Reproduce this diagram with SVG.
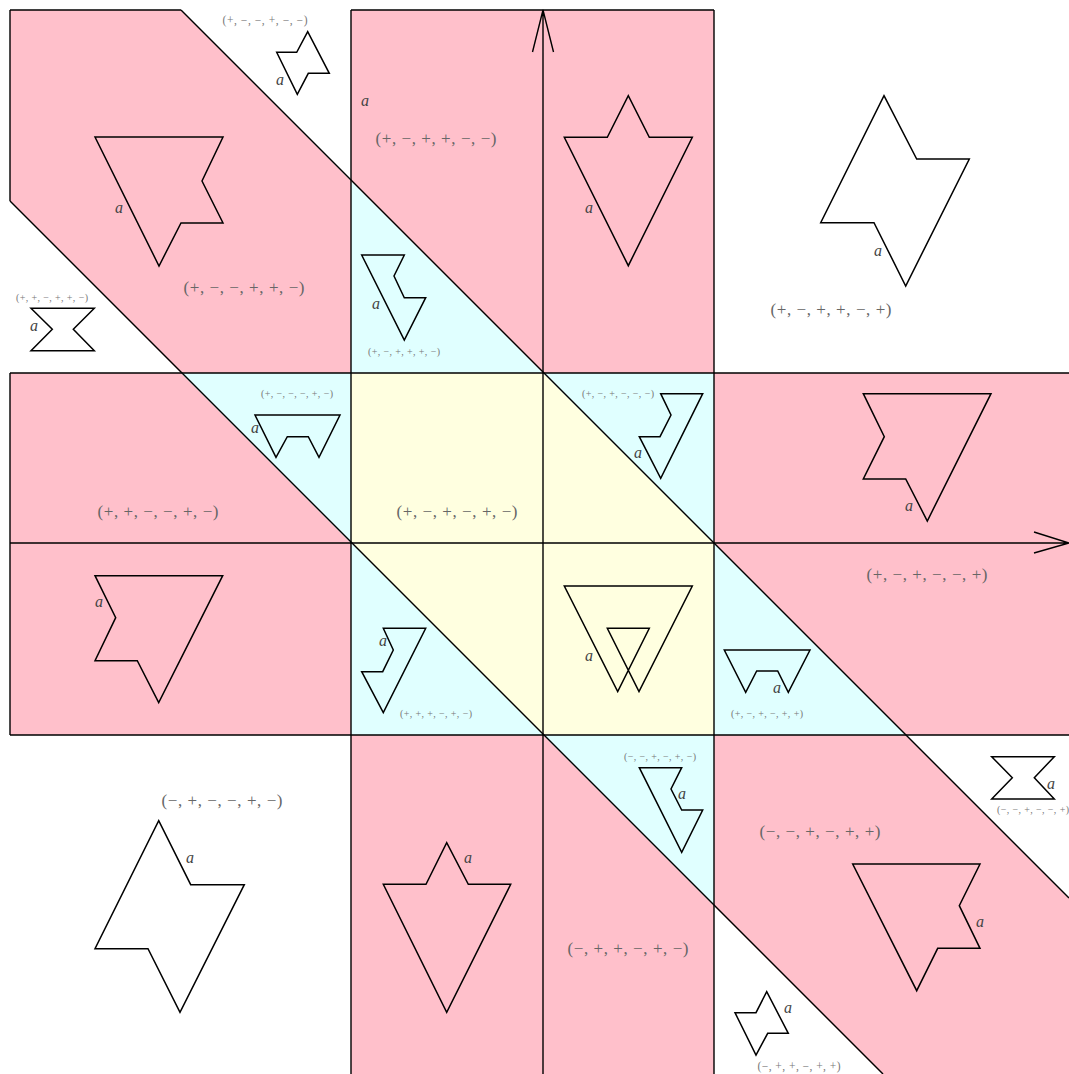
<svg xmlns="http://www.w3.org/2000/svg" width="1069" height="1074" viewBox="0 0 1069 1074">
<style>
.pk{fill:#FFC0CB}
.cy{fill:#E0FFFF}
.yl{fill:#FFFFE0}
.ln{stroke:#000;stroke-width:1.4;fill:none}
.sh{stroke:#000;stroke-width:1.5;fill:none;stroke-linejoin:miter}
.a{font-family:"Liberation Serif",serif;font-style:italic;font-size:16px;fill:#444;text-anchor:middle}
.big{font-family:"Liberation Serif",serif;font-size:17px;fill:#666;text-anchor:middle}
.sm{font-family:"Liberation Serif",serif;font-size:10px;fill:#777;text-anchor:middle}
.sm2{font-family:"Liberation Serif",serif;font-size:11.5px;fill:#777;text-anchor:middle}
</style>
<rect x="0" y="0" width="1069" height="1074" fill="#fff"/>
<g id="regions" stroke="none">
<polygon class="pk" points="10,10 181,10 351,181 351,373 181,373 10,201"/>
<polygon class="pk" points="351,10 543,10 543,373 351,181"/>
<polygon class="cy" points="351,181 543,373 351,373"/>
<polygon class="pk" points="543,10 714,10 714,373 543,373"/>
<polygon class="pk" points="10,373 181,373 351,543 10,543"/>
<polygon class="cy" points="181,373 351,373 351,543"/>
<polygon class="yl" points="351,373 543,373 543,543 351,543"/>
<polygon class="yl" points="543,373 714,543 543,543"/>
<polygon class="cy" points="543,373 714,373 714,543"/>
<polygon class="pk" points="714,373 1069,373 1069,543 714,543"/>
<polygon class="pk" points="10,543 351,543 351,735 10,735"/>
<polygon class="yl" points="351,543 543,543 543,735"/>
<polygon class="cy" points="351,543 543,735 351,735"/>
<polygon class="yl" points="543,543 714,543 714,735 543,735"/>
<polygon class="cy" points="714,543 906,735 714,735"/>
<polygon class="pk" points="714,543 1069,543 1069,735 906,735"/>
<polygon class="pk" points="351,735 543,735 543,1074 351,1074"/>
<polygon class="cy" points="543,735 714,735 714,906"/>
<polygon class="pk" points="543,735 714,906 714,1074 543,1074"/>
<polygon class="pk" points="714,735 906,735 1069,898 1069,1074 882,1074 714,906"/>
</g>
<g id="connectors">
<path class="ln" d="M10,10 H181 M351,10 H714"/>
<path class="ln" d="M10,10 V201 M10,373 V735"/>
<path class="ln" d="M351,10 V1074 M714,10 V1074"/>
<path class="ln" d="M543,1074 V10 M532.5,52 L543,10 L553.5,52"/>
<path class="ln" d="M10,373 H1069 M10,735 H1069"/>
<path class="ln" d="M10,543 H1069 M1034,532 L1069,543 L1034,553"/>
<path class="ln" d="M181,10 L1069,898"/>
<path class="ln" d="M10,201 L883,1074"/>
</g>
<g id="shape1"><polygon class="sh" points="95,137 223,137 202,181 223,223 181,223 159,266"/><text class="a" x="119" y="213">a</text></g>
<g id="shape2"><polygon class="sh" points="276.7,52.3 296.7,52.3 307.7,31.7 329.3,73.3 308.3,73.3 297.3,94.3"/><text class="a" x="280" y="85">a</text></g>
<g id="shape3"><polygon class="sh" points="31,308.3 94.3,308.3 73.3,329.3 94.3,350.7 31,350.7 52.3,329.3"/><text class="a" x="34" y="331">a</text></g>
<g id="shape4"><text class="a" x="365" y="106">a</text></g>
<g id="shape5"><polygon class="sh" points="361.7,255 404.3,255 394,276 404.3,297.7 425.7,297.7 404.3,340"/><text class="a" x="376" y="309">a</text></g>
<g id="shape6"><polygon class="sh" points="564.3,137.3 607.3,137.3 628.3,95.7 649.3,137.3 692.3,137.3 628.3,265.7"/><text class="a" x="589" y="213">a</text></g>
<g id="shape7"><polygon class="sh" points="884,95.7 916.7,159 969.3,159 905.7,286 874,222.7 820.7,222.7"/><text class="a" x="878" y="256">a</text></g>
<g id="shape8"><polygon class="sh" points="255,415 340,415 319,457.3 308.3,436.7 287.3,436.7 276,457.3"/><text class="a" x="255" y="433">a</text></g>
<g id="shape9"><polygon class="sh" points="95,575.7 222.7,575.7 158.7,702.7 137.3,660.7 95,660.7 115.7,617.7"/><text class="a" x="99" y="607">a</text></g>
<g id="shape10"><polygon class="sh" points="660.7,393.7 702.7,393.7 660.7,478.3 639.3,436.7 660,436.7 671,415"/><text class="a" x="638" y="458">a</text></g>
<g id="shape11"><polygon class="sh" points="383.3,628.3 425.7,628.3 383.3,712.7 361.7,671.7 382.7,671.7 393.3,650"/><text class="a" x="383" y="646">a</text></g>
<g id="shape12"><polygon class="sh" points="564.3,586 692.3,586 639,691.7 607.3,628.3 649.3,628.3 617.7,691.7"/><text class="a" x="589" y="661">a</text></g>
<g id="shape13"><polygon class="sh" points="863.3,393.7 991,393.7 927.3,521 905.7,479 863.3,479 884.3,436.7"/><text class="a" x="909" y="511">a</text></g>
<g id="shape14"><polygon class="sh" points="724.3,650 810,650 788.3,692.3 777.7,671 756.7,671 745.7,692.3"/><text class="a" x="777" y="693">a</text></g>
<g id="shape15"><polygon class="sh" points="158.7,820.7 190.7,884.7 244.3,884.7 180,1012.3 148,948.7 95,948.7"/><text class="a" x="190" y="863">a</text></g>
<g id="shape16"><polygon class="sh" points="383.3,884.3 426,884.3 446.7,842.7 468.3,884.3 510.7,884.3 446.7,1012.3"/><text class="a" x="468" y="863">a</text></g>
<g id="shape17"><polygon class="sh" points="639.3,767.7 681.7,767.7 671,789 681.7,810 702.7,810 681.7,852.3"/><text class="a" x="682" y="799">a</text></g>
<g id="shape18"><polygon class="sh" points="852.7,864 980,864 959.3,905.7 980,948.3 937.7,948.3 916.7,990.7"/><text class="a" x="980" y="927">a</text></g>
<g id="shape19"><polygon class="sh" points="991.7,756.7 1054.3,756.7 1034.3,777.7 1054.3,799 991.7,799 1012.3,777.7"/><text class="a" x="1051" y="789">a</text></g>
<g id="shape20"><polygon class="sh" points="766.7,991.7 788.3,1033.3 767.7,1033.3 756,1055 735,1012.7 756,1012.7"/><text class="a" x="788" y="1013">a</text></g>
<g id="labels">
<text class="big" x="244" y="293" textLength="121" lengthAdjust="spacing">(+, −, −, +, +, −)</text>
<text class="big" x="436" y="144" textLength="121" lengthAdjust="spacing">(+, −, +, +, −, −)</text>
<text class="big" x="831" y="315" textLength="121" lengthAdjust="spacing">(+, −, +, +, −, +)</text>
<text class="big" x="158" y="517" textLength="121" lengthAdjust="spacing">(+, +, −, −, +, −)</text>
<text class="big" x="457" y="517" textLength="121" lengthAdjust="spacing">(+, −, +, −, +, −)</text>
<text class="big" x="927" y="580" textLength="121" lengthAdjust="spacing">(+, −, +, −, −, +)</text>
<text class="big" x="222" y="806" textLength="121" lengthAdjust="spacing">(−, +, −, −, +, −)</text>
<text class="big" x="820" y="837" textLength="121" lengthAdjust="spacing">(−, −, +, −, +, +)</text>
<text class="big" x="628" y="954" textLength="121" lengthAdjust="spacing">(−, +, +, −, +, −)</text>
<text class="sm2" x="265" y="24" textLength="85" lengthAdjust="spacing">(+, −, −, +, −, −)</text>
<text class="sm" x="52" y="300.5" textLength="72" lengthAdjust="spacing">(+, +, −, +, +, −)</text>
<text class="sm" x="404" y="354.5" textLength="72" lengthAdjust="spacing">(+, −, +, +, +, −)</text>
<text class="sm" x="297" y="396.5" textLength="72" lengthAdjust="spacing">(+, −, −, −, +, −)</text>
<text class="sm" x="618" y="396.5" textLength="72" lengthAdjust="spacing">(+, −, +, −, −, −)</text>
<text class="sm" x="436" y="716.5" textLength="72" lengthAdjust="spacing">(+, +, +, −, +, −)</text>
<text class="sm" x="767" y="716.5" textLength="72" lengthAdjust="spacing">(+, −, +, −, +, +)</text>
<text class="sm" x="660" y="759.5" textLength="72" lengthAdjust="spacing">(−, −, +, −, +, −)</text>
<text class="sm" x="1033" y="812.5" textLength="72" lengthAdjust="spacing">(−, −, +, −, −, +)</text>
<text class="sm2" x="799" y="1070" textLength="83" lengthAdjust="spacing">(−, +, +, −, +, +)</text>
</g>
</svg>
